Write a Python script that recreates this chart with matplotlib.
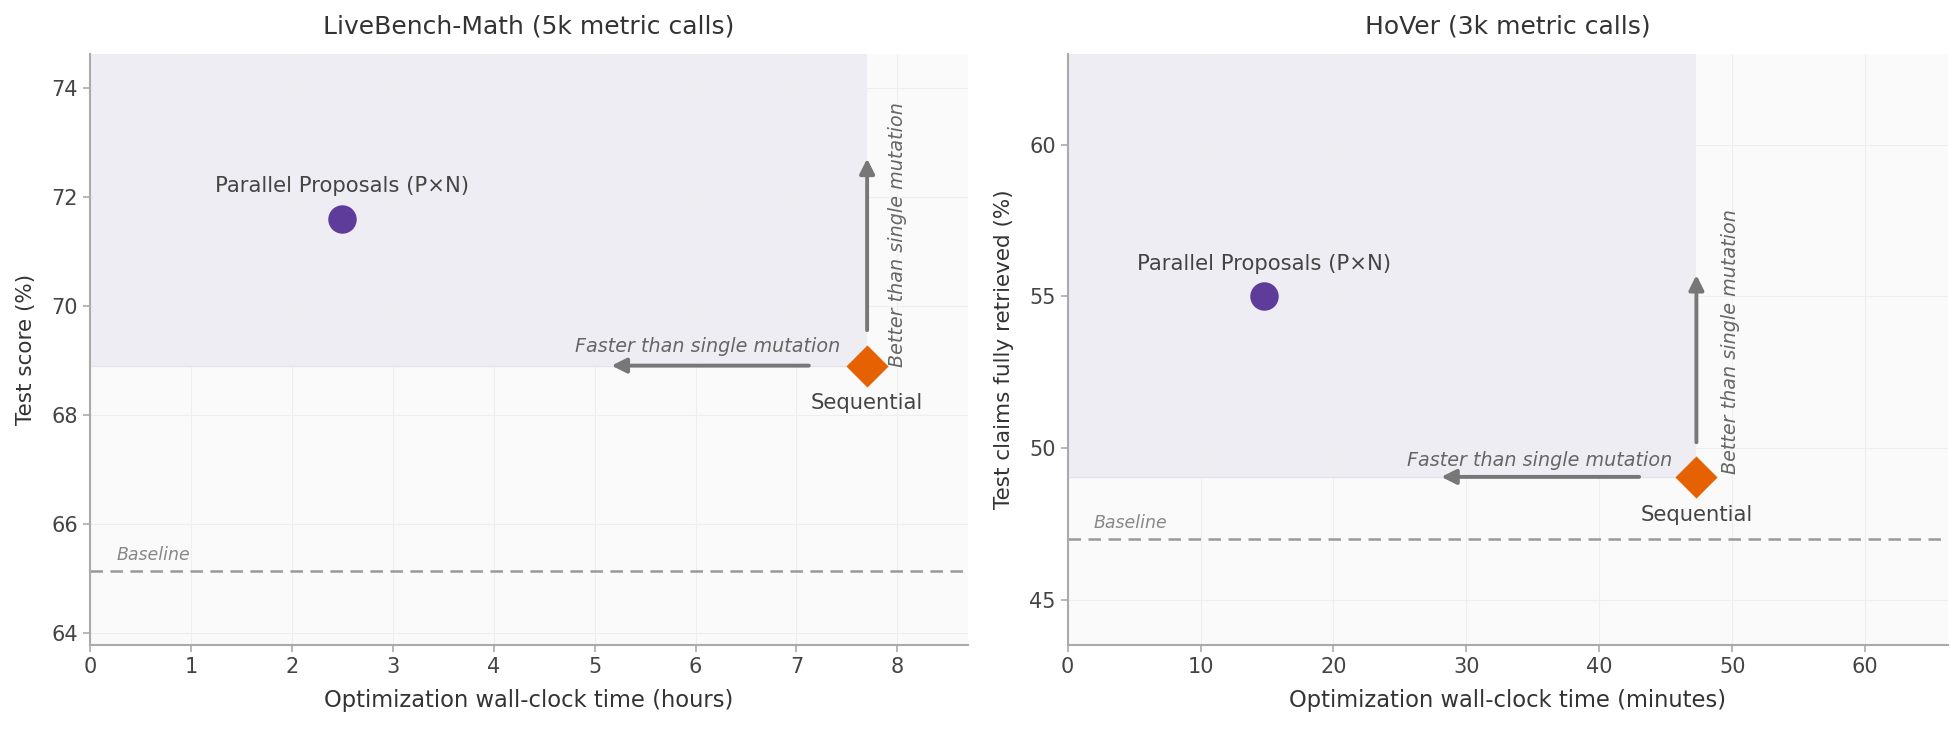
import numpy as np
import matplotlib.pyplot as plt

# data
titles = ['LiveBench-Math (5k metric calls)', 'HoVer (3k metric calls)']
xlabels = ['Optimization wall-clock time (hours)', 'Optimization wall-clock time (minutes)']
ylabels = ['Test score (%)', 'Test claims fully retrieved (%)']
seq_x = [7.7, 47.3]
seq_y = [68.9, 49.05]
par_x = [2.5, 14.8]
par_y = [71.6, 55.0]
baseline = [65.13, 47.0]
xlims = [(0, 8.7), (0, 66.2)]
ylims = [(63.77, 74.62), (43.5, 63.0)]
yticks = [[64, 66, 68, 70, 72, 74], [45, 50, 55, 60]]
xticks = [np.arange(0, 9, 1), np.arange(0, 70, 10)]
# arrow positions (data coords)
h_arrow = [(7.15, 5.14), (43.2, 27.9)]
v_arrow = [(69.5, 72.75), (50.1, 55.8)]
fast_txt = [(6.12, 69.25), (35.5, 49.6)]
better_txt = [(8.0, 71.3), (49.9, 53.5)]

purple = '#5e3c99'
orange = '#e66101'
grey_txt = '#444444'

fig = plt.figure(figsize=(19.6, 7.29), dpi=100)
axes = [fig.add_axes([0.0459, 0.115, 0.448, 0.811]),
        fig.add_axes([0.5447, 0.115, 0.449, 0.811])]

for i, ax in enumerate(axes):
    ax.set_facecolor('#fafafa')
    ax.set_xlim(*xlims[i])
    ax.set_ylim(*ylims[i])
    ax.set_xticks(xticks[i])
    ax.set_yticks(yticks[i])
    ax.grid(True, color='#eeeeee', lw=0.8)
    ax.set_axisbelow(True)
    for s in ['top', 'right']:
        ax.spines[s].set_visible(False)
    for s in ['left', 'bottom']:
        ax.spines[s].set_color('#aaaaaa')
        ax.spines[s].set_linewidth(1.5)
    ax.tick_params(colors='#aaaaaa', labelcolor=grey_txt, labelsize=15, length=5, width=1.2)

    # shaded "better and faster" region
    ax.fill_between([0, seq_x[i]], seq_y[i], ylims[i][1], color='#efedf4', lw=0, zorder=0.5)
    ax.plot([0, seq_x[i]], [seq_y[i], seq_y[i]], color='#e6e3ee', lw=1, zorder=0.6)

    ax.axhline(baseline[i], color='#999999', ls='--', lw=1.8, dashes=(5, 3))
    ax.text(xlims[i][1] * 0.03, baseline[i] + (ylims[i][1] - ylims[i][0]) * 0.012, 'Baseline',
            fontsize=12.5, style='italic', color='#888888', va='bottom')

    ax.annotate('', xy=(h_arrow[i][1], seq_y[i]), xytext=(h_arrow[i][0], seq_y[i]),
                arrowprops=dict(arrowstyle='-|>', color='#777777', lw=2.8, mutation_scale=22))
    ax.annotate('', xy=(seq_x[i], v_arrow[i][1]), xytext=(seq_x[i], v_arrow[i][0]),
                arrowprops=dict(arrowstyle='-|>', color='#777777', lw=2.8, mutation_scale=22))
    ax.text(fast_txt[i][0], fast_txt[i][1], 'Faster than single mutation', fontsize=13.8,
            style='italic', color='#666666', ha='center', va='center')
    ax.text(better_txt[i][0], better_txt[i][1], 'Better than single mutation', fontsize=13.8,
            style='italic', color='#666666', ha='center', va='center', rotation=90)

    ax.scatter(par_x[i], par_y[i], s=420, color=purple, zorder=5, linewidths=0)
    ax.scatter(seq_x[i], seq_y[i], s=460, marker='D', color=orange, zorder=5, linewidths=0)
    ax.annotate('Parallel Proposals (P\u00d7N)', (par_x[i], par_y[i]), xytext=(0, 16),
                textcoords='offset points', ha='center', va='bottom', fontsize=15.2, color=grey_txt)
    ax.annotate('Sequential', (seq_x[i], seq_y[i]), xytext=(0, -20),
                textcoords='offset points', ha='center', va='top', fontsize=15.2, color=grey_txt)

    ax.set_title(titles[i], fontsize=18, color='#333333', pad=15)
    ax.set_xlabel(xlabels[i], fontsize=16.3, color='#333333', labelpad=9)
    ax.set_ylabel(ylabels[i], fontsize=15.5, color='#333333', labelpad=11)

fig.savefig('out.png', dpi=100)
